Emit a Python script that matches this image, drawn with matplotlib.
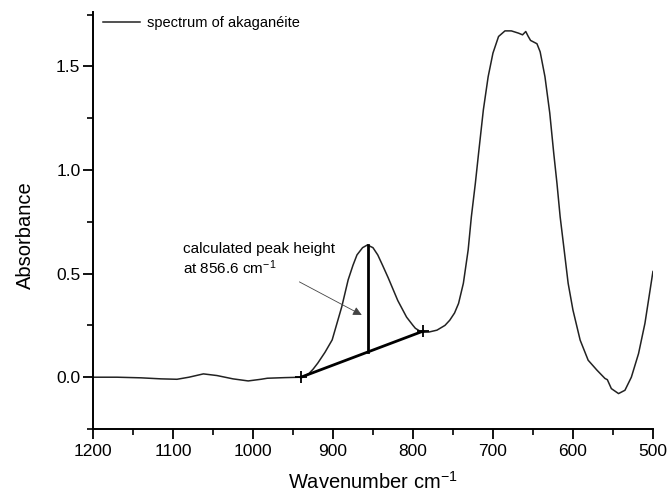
import matplotlib
matplotlib.use("Agg")
import matplotlib.pyplot as plt
from matplotlib.ticker import MultipleLocator, FormatStrFormatter

plt.rcParams["font.family"] = ["Liberation Sans", "DejaVu Sans"]
plt.rcParams["mathtext.default"] = "regular"

# spectrum (wavenumber in cm^-1, absorbance)
wavenumber = [1200, 1170, 1140, 1115, 1095, 1080, 1062, 1045, 1025, 1006,
              990, 982, 960, 939, 930, 925, 919, 910, 901, 895,
              889, 881, 875, 870, 863, 857, 850, 844, 838, 831,
              825, 819, 808, 800, 797, 789, 780, 770, 760, 754,
              748, 743, 737, 731, 727, 722, 718, 712, 706, 700,
              693, 685, 677, 668, 663, 659, 656, 653, 645, 641,
              635, 629, 624, 620, 616, 611, 606, 600, 591, 581,
              570, 560, 557, 552, 543, 535, 527, 518, 510, 500]
absorbance = [0.0, 0.0, -0.003, -0.008, -0.01, 0.0, 0.016, 0.008, -0.008, -0.018,
              -0.01, -0.005, -0.002, 0.0, 0.018, 0.038, 0.068, 0.12, 0.18, 0.26,
              0.34, 0.47, 0.54, 0.59, 0.625, 0.638, 0.625, 0.59, 0.54, 0.48,
              0.425, 0.37, 0.29, 0.25, 0.236, 0.217, 0.218, 0.227, 0.25, 0.275,
              0.31, 0.356, 0.453, 0.614, 0.774, 0.936, 1.08, 1.29, 1.45, 1.564,
              1.644, 1.671, 1.671, 1.66, 1.652, 1.668, 1.645, 1.625, 1.609, 1.57,
              1.45, 1.275, 1.08, 0.936, 0.774, 0.614, 0.453, 0.324, 0.179, 0.082,
              0.034, -0.006, -0.012, -0.055, -0.079, -0.063, 0.0, 0.114, 0.26, 0.51]

# baseline of the 856.6 band and the peak
base_wn = [940, 787.5]
base_abs = [0.0, 0.222]
peak_wn = 856.6
peak_abs = 0.638
peak_base = 0.121

fig = plt.figure(figsize=(6.69, 4.95), dpi=100)
ax = fig.add_axes([0.139, 0.1333, 0.837, 0.8424])

ax.plot(wavenumber, absorbance, color="#222222", lw=1.1, label="spectrum of akaganéite")
ax.plot(base_wn, base_abs, color="black", lw=2.0)
ax.plot(base_wn, base_abs, ls="none", marker="+", ms=9, mew=1.3, color="black")
ax.plot([peak_wn, peak_wn], [peak_base, peak_abs], color="black", lw=2.0)

ax.text(1088, 0.618, "calculated peak height", fontsize=11, va="center", ha="left")
ax.text(1088, 0.527, "at 856.6 cm$^{-1}$", fontsize=11, va="center", ha="left")
ax.annotate("", xy=(864, 0.30), xytext=(942, 0.46),
            arrowprops=dict(arrowstyle="-|>", color="#444444", lw=0.6,
                            mutation_scale=13, shrinkA=0, shrinkB=0))

ax.set_xlim(1200, 500)
ax.set_ylim(-0.25, 1.762)
ax.xaxis.set_major_locator(MultipleLocator(100))
ax.xaxis.set_minor_locator(MultipleLocator(50))
ax.yaxis.set_major_locator(MultipleLocator(0.5))
ax.yaxis.set_minor_locator(MultipleLocator(0.25))
ax.yaxis.set_major_formatter(FormatStrFormatter("%.1f"))

for side in ("top", "right"):
    ax.spines[side].set_visible(False)
for side in ("left", "bottom"):
    ax.spines[side].set_linewidth(1.4)

ax.tick_params(which="major", direction="out", length=7, width=1.3, labelsize=12.5)
ax.tick_params(axis="y", which="major", pad=2)
ax.tick_params(which="minor", direction="out", length=4.5, width=1.2)

ax.set_xlabel("Wavenumber cm$^{-1}$", fontsize=14.5, labelpad=9)
ax.set_ylabel("Absorbance", fontsize=14.5)
ax.yaxis.set_label_coords(-0.103, 0.465)

ax.legend(loc="upper left", frameon=False, fontsize=10.5, handlelength=2.5,
          bbox_to_anchor=(0.0, 1.015), borderaxespad=0.3, handletextpad=0.5)

fig.savefig("out.png", dpi=100, facecolor="white")
